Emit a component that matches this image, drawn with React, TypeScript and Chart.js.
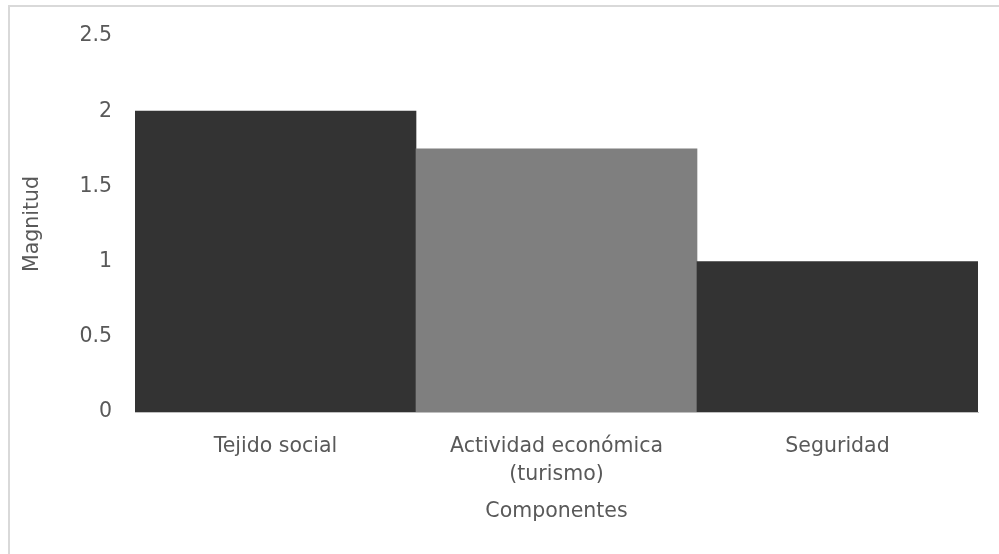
import React, { useEffect, useRef } from "react";
import { Chart, registerables } from "chart.js";

Chart.register(...registerables);

const categories: (string | string[])[] = [
  "Tejido social",
  ["Actividad económica", "(turismo)"],
  "Seguridad",
];
const magnitudes = [2, 1.75, 1];
const barColors = ["#333333", "#7f7f7f", "#333333"];
const yMin = 0;
const yMax = 2.5;
const yStep = 0.5;

const FONT = "'DejaVu Sans', Verdana, sans-serif";
const TEXT = "#595959";
const SIZE = 20.5;

export default function App() {
  const canvasRef = useRef<HTMLCanvasElement | null>(null);

  useEffect(() => {
    const canvas = canvasRef.current;
    if (!canvas) return;
    const chart = new Chart(canvas, {
      type: "bar",
      data: {
        labels: categories,
        datasets: [
          {
            data: magnitudes,
            backgroundColor: barColors,
            borderWidth: 0,
            barPercentage: 1,
            categoryPercentage: 1,
          },
        ],
      },
      options: {
        responsive: false,
        animation: false,
        devicePixelRatio: 1,
        layout: { padding: { left: 0, right: 21, top: 36, bottom: 0 } },
        plugins: {
          legend: { display: false },
          tooltip: { enabled: false },
        },
        scales: {
          x: {
            grid: { display: false, drawTicks: false },
            border: { display: true, color: "#bfbfbf", width: 1 },
            ticks: {
              color: TEXT,
              font: { family: FONT, size: SIZE, lineHeight: 1.37 },
              padding: 21,
              maxRotation: 0,
              autoSkip: false,
            },
            title: {
              display: true,
              text: "Componentes",
              color: TEXT,
              font: { family: FONT, size: SIZE },
              padding: { top: 0, bottom: 30 },
            },
            afterFit: (scale: any) => {
              scale.height = 142;
            },
          },
          y: {
            min: yMin,
            max: yMax,
            grid: { display: false, drawTicks: false },
            border: { display: false },
            ticks: {
              stepSize: yStep,
              color: TEXT,
              font: { family: FONT, size: SIZE },
              padding: 23,
              callback: (value: any) => String(Number(value)),
            },
            title: {
              display: true,
              text: "Magnitud",
              color: TEXT,
              font: { family: FONT, size: SIZE },
              padding: { top: 20, bottom: 0 },
            },
            afterFit: (scale: any) => {
              scale.width = 135;
            },
          },
        },
      },
    });
    return () => chart.destroy();
  }, []);

  return (
    <div
      style={{
        position: "fixed",
        left: 0,
        top: 0,
        width: 999,
        height: 554,
        background: "#ffffff",
        overflow: "hidden",
      }}
    >
      <div
        style={{
          position: "absolute",
          left: 8,
          top: 5,
          width: 1100,
          height: 700,
          border: "2px solid #d9d9d9",
          boxSizing: "border-box",
        }}
      />
      <canvas
        ref={canvasRef}
        width={999}
        height={554}
        style={{ position: "absolute", left: 0, top: 0, display: "block" }}
      />
    </div>
  );
}
